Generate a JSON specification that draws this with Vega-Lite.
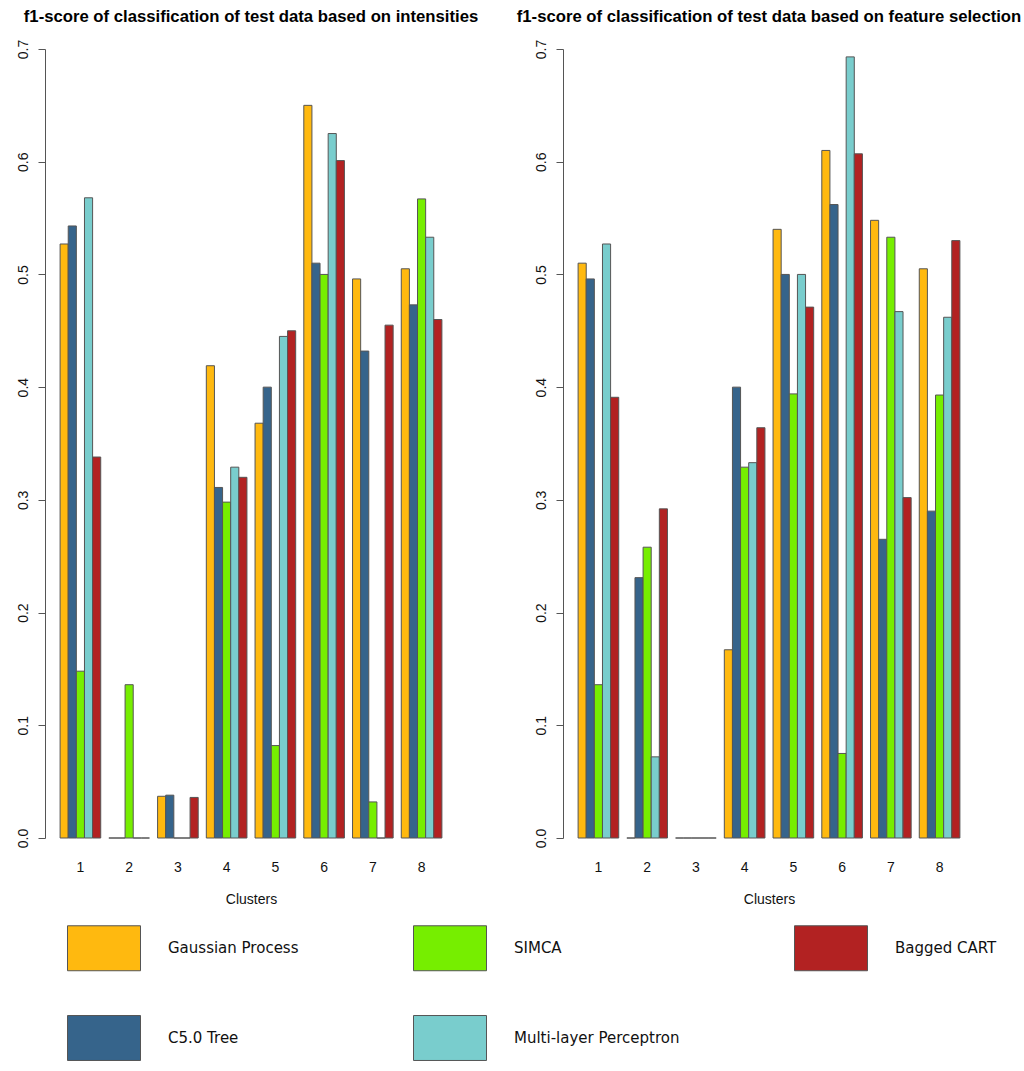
{
  "$schema": "https://vega.github.io/schema/vega-lite/v6.json",
  "padding": {"left": 16, "top": 8, "right": 5, "bottom": 0},
  "background": "white",
  "datasets": {
    "scores": [
      {"panel": "intensities", "cluster": "1", "method": "Gaussian Process", "f1": 0.527},
      {"panel": "intensities", "cluster": "1", "method": "C5.0 Tree", "f1": 0.543},
      {"panel": "intensities", "cluster": "1", "method": "SIMCA", "f1": 0.148},
      {"panel": "intensities", "cluster": "1", "method": "Multi-layer Perceptron", "f1": 0.568},
      {"panel": "intensities", "cluster": "1", "method": "Bagged CART", "f1": 0.338},
      {"panel": "intensities", "cluster": "2", "method": "Gaussian Process", "f1": 0},
      {"panel": "intensities", "cluster": "2", "method": "C5.0 Tree", "f1": 0},
      {"panel": "intensities", "cluster": "2", "method": "SIMCA", "f1": 0.136},
      {"panel": "intensities", "cluster": "2", "method": "Multi-layer Perceptron", "f1": 0},
      {"panel": "intensities", "cluster": "2", "method": "Bagged CART", "f1": 0},
      {"panel": "intensities", "cluster": "3", "method": "Gaussian Process", "f1": 0.037},
      {"panel": "intensities", "cluster": "3", "method": "C5.0 Tree", "f1": 0.038},
      {"panel": "intensities", "cluster": "3", "method": "SIMCA", "f1": 0},
      {"panel": "intensities", "cluster": "3", "method": "Multi-layer Perceptron", "f1": 0},
      {"panel": "intensities", "cluster": "3", "method": "Bagged CART", "f1": 0.036},
      {"panel": "intensities", "cluster": "4", "method": "Gaussian Process", "f1": 0.419},
      {"panel": "intensities", "cluster": "4", "method": "C5.0 Tree", "f1": 0.311},
      {"panel": "intensities", "cluster": "4", "method": "SIMCA", "f1": 0.298},
      {"panel": "intensities", "cluster": "4", "method": "Multi-layer Perceptron", "f1": 0.329},
      {"panel": "intensities", "cluster": "4", "method": "Bagged CART", "f1": 0.32},
      {"panel": "intensities", "cluster": "5", "method": "Gaussian Process", "f1": 0.368},
      {"panel": "intensities", "cluster": "5", "method": "C5.0 Tree", "f1": 0.4},
      {"panel": "intensities", "cluster": "5", "method": "SIMCA", "f1": 0.082},
      {"panel": "intensities", "cluster": "5", "method": "Multi-layer Perceptron", "f1": 0.445},
      {"panel": "intensities", "cluster": "5", "method": "Bagged CART", "f1": 0.45},
      {"panel": "intensities", "cluster": "6", "method": "Gaussian Process", "f1": 0.65},
      {"panel": "intensities", "cluster": "6", "method": "C5.0 Tree", "f1": 0.51},
      {"panel": "intensities", "cluster": "6", "method": "SIMCA", "f1": 0.5},
      {"panel": "intensities", "cluster": "6", "method": "Multi-layer Perceptron", "f1": 0.625},
      {"panel": "intensities", "cluster": "6", "method": "Bagged CART", "f1": 0.601},
      {"panel": "intensities", "cluster": "7", "method": "Gaussian Process", "f1": 0.496},
      {"panel": "intensities", "cluster": "7", "method": "C5.0 Tree", "f1": 0.432},
      {"panel": "intensities", "cluster": "7", "method": "SIMCA", "f1": 0.032},
      {"panel": "intensities", "cluster": "7", "method": "Multi-layer Perceptron", "f1": 0},
      {"panel": "intensities", "cluster": "7", "method": "Bagged CART", "f1": 0.455},
      {"panel": "intensities", "cluster": "8", "method": "Gaussian Process", "f1": 0.505},
      {"panel": "intensities", "cluster": "8", "method": "C5.0 Tree", "f1": 0.473},
      {"panel": "intensities", "cluster": "8", "method": "SIMCA", "f1": 0.567},
      {"panel": "intensities", "cluster": "8", "method": "Multi-layer Perceptron", "f1": 0.533},
      {"panel": "intensities", "cluster": "8", "method": "Bagged CART", "f1": 0.46},
      {"panel": "features", "cluster": "1", "method": "Gaussian Process", "f1": 0.51},
      {"panel": "features", "cluster": "1", "method": "C5.0 Tree", "f1": 0.496},
      {"panel": "features", "cluster": "1", "method": "SIMCA", "f1": 0.136},
      {"panel": "features", "cluster": "1", "method": "Multi-layer Perceptron", "f1": 0.527},
      {"panel": "features", "cluster": "1", "method": "Bagged CART", "f1": 0.391},
      {"panel": "features", "cluster": "2", "method": "Gaussian Process", "f1": 0},
      {"panel": "features", "cluster": "2", "method": "C5.0 Tree", "f1": 0.231},
      {"panel": "features", "cluster": "2", "method": "SIMCA", "f1": 0.258},
      {"panel": "features", "cluster": "2", "method": "Multi-layer Perceptron", "f1": 0.072},
      {"panel": "features", "cluster": "2", "method": "Bagged CART", "f1": 0.292},
      {"panel": "features", "cluster": "3", "method": "Gaussian Process", "f1": 0},
      {"panel": "features", "cluster": "3", "method": "C5.0 Tree", "f1": 0},
      {"panel": "features", "cluster": "3", "method": "SIMCA", "f1": 0},
      {"panel": "features", "cluster": "3", "method": "Multi-layer Perceptron", "f1": 0},
      {"panel": "features", "cluster": "3", "method": "Bagged CART", "f1": 0},
      {"panel": "features", "cluster": "4", "method": "Gaussian Process", "f1": 0.167},
      {"panel": "features", "cluster": "4", "method": "C5.0 Tree", "f1": 0.4},
      {"panel": "features", "cluster": "4", "method": "SIMCA", "f1": 0.329},
      {"panel": "features", "cluster": "4", "method": "Multi-layer Perceptron", "f1": 0.333},
      {"panel": "features", "cluster": "4", "method": "Bagged CART", "f1": 0.364},
      {"panel": "features", "cluster": "5", "method": "Gaussian Process", "f1": 0.54},
      {"panel": "features", "cluster": "5", "method": "C5.0 Tree", "f1": 0.5},
      {"panel": "features", "cluster": "5", "method": "SIMCA", "f1": 0.394},
      {"panel": "features", "cluster": "5", "method": "Multi-layer Perceptron", "f1": 0.5},
      {"panel": "features", "cluster": "5", "method": "Bagged CART", "f1": 0.471},
      {"panel": "features", "cluster": "6", "method": "Gaussian Process", "f1": 0.61},
      {"panel": "features", "cluster": "6", "method": "C5.0 Tree", "f1": 0.562},
      {"panel": "features", "cluster": "6", "method": "SIMCA", "f1": 0.075},
      {"panel": "features", "cluster": "6", "method": "Multi-layer Perceptron", "f1": 0.693},
      {"panel": "features", "cluster": "6", "method": "Bagged CART", "f1": 0.607},
      {"panel": "features", "cluster": "7", "method": "Gaussian Process", "f1": 0.548},
      {"panel": "features", "cluster": "7", "method": "C5.0 Tree", "f1": 0.265},
      {"panel": "features", "cluster": "7", "method": "SIMCA", "f1": 0.533},
      {"panel": "features", "cluster": "7", "method": "Multi-layer Perceptron", "f1": 0.467},
      {"panel": "features", "cluster": "7", "method": "Bagged CART", "f1": 0.302},
      {"panel": "features", "cluster": "8", "method": "Gaussian Process", "f1": 0.505},
      {"panel": "features", "cluster": "8", "method": "C5.0 Tree", "f1": 0.29},
      {"panel": "features", "cluster": "8", "method": "SIMCA", "f1": 0.393},
      {"panel": "features", "cluster": "8", "method": "Multi-layer Perceptron", "f1": 0.462},
      {"panel": "features", "cluster": "8", "method": "Bagged CART", "f1": 0.53}
    ]
  },
  "config": {
    "view": {"stroke": null},
    "title": {"font": "Liberation Sans", "fontSize": 16.7, "fontWeight": "bold", "color": "#000", "anchor": "middle", "offset": 14},
    "axisY": {
      "domainColor": "#555", "tickColor": "#555", "tickSize": 7, "grid": false,
      "labelFont": "Liberation Sans", "labelFontSize": 14, "labelColor": "#111",
      "labelAngle": 270, "labelAlign": "center", "labelBaseline": "bottom", "labelPadding": 8
    },
    "axisX": {
      "domain": false, "ticks": false, "grid": false, "labelAngle": 0,
      "labelFont": "Liberation Sans", "labelFontSize": 14, "labelColor": "#111", "labelPadding": 22,
      "titleFont": "Liberation Sans", "titleFontSize": 14, "titleFontWeight": "normal", "titleColor": "#111", "titlePadding": 18
    },
    "legend": {
      "labelFont": "DejaVu Sans", "labelFontSize": 15, "labelColor": "#111"
    }
  },
  "spacing": 37,
  "resolve": {"scale": {"color": "shared"}},
  "hconcat": [
    {
      "title": "f1-score of classification of test data based on intensities",
      "width": 412,
      "height": 789,
      "data": {"name": "scores"},
      "transform": [{"filter": "datum.panel === 'intensities'"}],
      "mark": {"type": "bar", "stroke": "#555", "strokeWidth": 1},
      "encoding": {
        "x": {"field": "cluster", "type": "ordinal", "title": "Clusters", "scale": {"paddingInner": 0.1667, "paddingOuter": 0.31}},
        "xOffset": {"field": "method", "type": "nominal", "sort": ["Gaussian Process", "C5.0 Tree", "SIMCA", "Multi-layer Perceptron", "Bagged CART"], "scale": {"paddingInner": 0, "paddingOuter": 0}},
        "y": {"field": "f1", "type": "quantitative", "title": null, "scale": {"domain": [0, 0.7], "nice": false}, "axis": {"values": [0, 0.1, 0.2, 0.3, 0.4, 0.5, 0.6, 0.7], "format": ".1f"}},
        "color": {
          "field": "method", "type": "nominal",
          "scale": {
            "domain": ["Gaussian Process", "SIMCA", "Bagged CART", "C5.0 Tree", "Multi-layer Perceptron"],
            "range": ["#FFB90F", "#76EE00", "#B22222", "#36648B", "#79CDCD"]
          },
          "legend": {
            "title": null, "orient": "none", "legendX": 22, "legendY": 862,
            "direction": "horizontal", "columns": 3, "gridAlign": "each",
            "columnPadding": 112, "rowPadding": 28, "padding": 0,
            "symbolType": "M-1,-0.616L1,-0.616L1,0.616L-1,0.616Z", "symbolSize": 5329,
            "symbolStrokeColor": "#555", "symbolStrokeWidth": 1, "symbolOpacity": 1,
            "labelOffset": 27, "labelLimit": 400
          }
        }
      }
    },
    {
      "title": "f1-score of classification of test data based on feature selection",
      "width": 412,
      "height": 789,
      "data": {"name": "scores"},
      "transform": [{"filter": "datum.panel === 'features'"}],
      "mark": {"type": "bar", "stroke": "#555", "strokeWidth": 1},
      "encoding": {
        "x": {"field": "cluster", "type": "ordinal", "title": "Clusters", "scale": {"paddingInner": 0.1667, "paddingOuter": 0.31}},
        "xOffset": {"field": "method", "type": "nominal", "sort": ["Gaussian Process", "C5.0 Tree", "SIMCA", "Multi-layer Perceptron", "Bagged CART"], "scale": {"paddingInner": 0, "paddingOuter": 0}},
        "y": {"field": "f1", "type": "quantitative", "title": null, "scale": {"domain": [0, 0.7], "nice": false}, "axis": {"values": [0, 0.1, 0.2, 0.3, 0.4, 0.5, 0.6, 0.7], "format": ".1f"}},
        "color": {"field": "method", "type": "nominal"}
      }
    }
  ]
}
